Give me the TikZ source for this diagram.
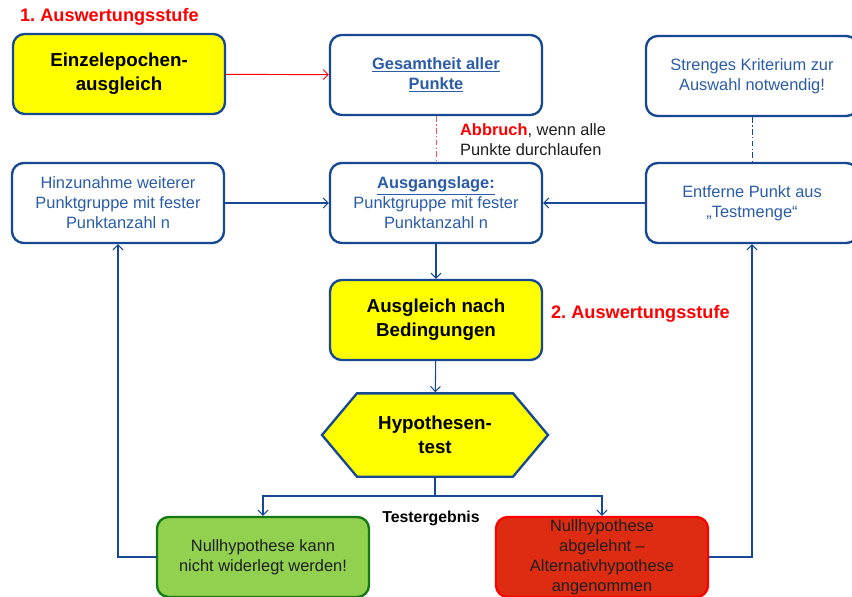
\documentclass[tikz,border=0pt]{standalone}
\usepackage{fontspec}
\setmainfont{Liberation Sans}
\usetikzlibrary{arrows.meta,shapes.symbols}
\definecolor{boxblue}{RGB}{22,72,148}
\definecolor{txtblue}{RGB}{42,92,168}
\definecolor{signyellow}{RGB}{255,255,0}
\definecolor{okgreen}{RGB}{146,208,80}
\definecolor{okborder}{RGB}{20,120,20}
\definecolor{nofill}{RGB}{222,44,18}
\definecolor{stufered}{RGB}{255,0,0}
\definecolor{darktext}{RGB}{30,30,30}
\newcommand{\fsnorm}{\fontsize{14}{17}\selectfont}
\newcommand{\fsbig}{\fontsize{16}{20.5}\selectfont}
\frenchspacing

\begin{document}
\begin{tikzpicture}[
  x=0.03cm, y=-0.03cm,
  box/.style={draw=boxblue, line width=2pt, rounded corners=3.5mm, minimum width=6.36cm, minimum height=2.4cm, align=center, inner sep=2pt},
  infobox/.style={box, fill=white, text=txtblue, font=\fsnorm},
  mainbox/.style={box, fill=signyellow, text=black, font=\fsbig\bfseries},
  hexa/.style={shape=signal, signal to=west and east, signal pointer angle=100, draw=boxblue, line width=2pt, fill=signyellow, font=\fsbig\bfseries, align=center, minimum width=6.78cm, minimum height=2.5cm},
  conn/.style={draw=boxblue, line width=0.9pt, -{Straight Barb[length=1.5mm,width=3mm]}},
  stufe/.style={text=stufered, font=\fontsize{15.5}{18}\selectfont\bfseries}
]
\useasboundingbox (0,0) rectangle (852,596);
\clip (0,0) rectangle (852,596);

% 1. Auswertungsstufe
\node[stufe, anchor=west] (stufe1) at (16,17) {1. Auswertungsstufe};
\node[mainbox] (einzel) at (119,74) {Einzelepochen-\\ausgleich};
\node[infobox, font=\fsnorm\bfseries] (gesamt) at (436,75) {\underline{Gesamtheit aller}\\\underline{Punkte}};
\node[infobox] (kriterium) at (752,76) {Strenges Kriterium zur\\Auswahl notwendig!};

% Punktgruppen
\node[infobox] (hinzu) at (118,203) {Hinzunahme weiterer\\Punktgruppe mit fester\\Punktanzahl n};
\node[infobox] (ausgang) at (436,203) {\textbf{\underline{Ausgangslage:}}\\Punktgruppe mit fester\\Punktanzahl n};
\node[infobox] (entferne) at (752,203) {Entferne Punkt aus\\„Testmenge“};
\node[anchor=west, align=left, text=darktext, font=\fsnorm] (abbruch) at (456,140) {\textcolor{stufered}{\textbf{Abbruch}}, wenn alle\\Punkte durchlaufen};

% 2. Auswertungsstufe
\node[mainbox] (ausgleich) at (436,320) {Ausgleich nach\\Bedingungen};
\node[stufe, anchor=west] (stufe2) at (547,314) {2. Auswertungsstufe};
\node[hexa] (test) at (435,435) {Hypothesen-\\test};

% Testergebnis
\node[box, fill=okgreen, draw=okborder, text=darktext, font=\fsnorm] (nullok) at (263,557) {Nullhypothese kann\\nicht widerlegt werden!};
\node[box, fill=nofill, draw=stufered, text=darktext, font=\fsnorm] (nullno) at (602,557) {Nullhypothese\\abgelehnt –\\Alternativhypothese\\angenommen};
\node[font=\fontsize{13.5}{16}\selectfont\bfseries] (ergebnis) at (431,518) {Testergebnis};
\coordinate (split) at (435,496);

% connectors
\draw[red, line width=0.8pt, -{Straight Barb[length=1.5mm,width=3mm]}] (einzel) -- (gesamt);
\draw[red!70, line width=0.8pt, dash pattern=on 5pt off 2pt on 1pt off 2pt] (gesamt) -- (ausgang);
\draw[boxblue, line width=0.7pt, dash pattern=on 5pt off 2pt on 1pt off 2pt] (kriterium) -- (entferne);
\draw[conn] (hinzu) -- (ausgang);
\draw[conn] (entferne) -- (ausgang);
\draw[conn] (ausgang) -- (ausgleich);
\draw[conn] (ausgleich) -- (test);
\draw[conn] (test.south) -- (split) -| (nullok.north);
\draw[conn] (split) -| (nullno.north);
\draw[conn] (nullok.west) -| (hinzu.south);
\draw[conn] (nullno.east) -| (entferne.south);
\end{tikzpicture}
\end{document}
